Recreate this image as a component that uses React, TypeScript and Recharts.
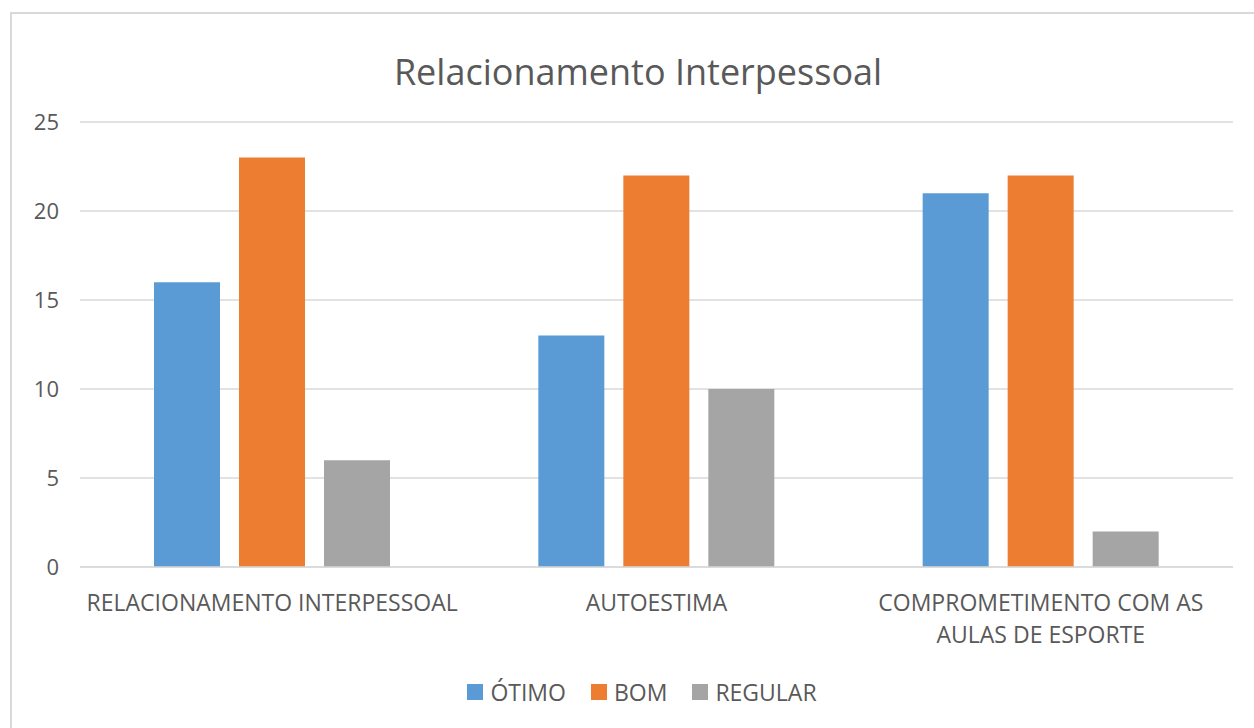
import { Bar, BarChart, CartesianGrid, XAxis, YAxis } from "recharts";

const categories = [
  "RELACIONAMENTO INTERPESSOAL",
  "AUTOESTIMA",
  "COMPROMETIMENTO COM AS\nAULAS DE ESPORTE"
];
const otimo = [16, 13, 21];
const bom = [23, 22, 22];
const regular = [6, 10, 2];
const yTicks = [0, 5, 10, 15, 20, 25];

const series = [
  { key: "otimo", name: "ÓTIMO", color: "#5B9BD5" },
  { key: "bom", name: "BOM", color: "#ED7D31" },
  { key: "regular", name: "REGULAR", color: "#A5A5A5" }
];

const data = categories.map((name, i) => ({
  name,
  otimo: otimo[i],
  bom: bom[i],
  regular: regular[i]
}));

const FONT = "'Open Sans', sans-serif";
const TEXT = "#595959";

function CategoryTick(props: any) {
  const { x, y, payload } = props;
  const lines = String(payload.value).split("\n");
  return (
    <text x={x} y={y} textAnchor="middle" fill={TEXT} fontFamily={FONT} fontSize={23}>
      {lines.map((line, i) => (
        <tspan key={i} x={x} dy={i === 0 ? 36 : 32}>
          {line}
        </tspan>
      ))}
    </text>
  );
}

export default function App() {
  return (
    <div style={{ position: "fixed", left: 0, top: 0, width: 1254, height: 728, background: "#fff", overflow: "hidden" }}>
      <div
        style={{
          position: "absolute",
          left: 10,
          top: 12,
          width: 1270,
          height: 740,
          border: "2px solid #D9D9D9"
        }}
      />
      <div
        style={{
          position: "absolute",
          left: 0,
          top: 47,
          width: 1276,
          textAlign: "center",
          fontFamily: FONT,
          fontSize: 36,
          color: TEXT
        }}
      >
        Relacionamento Interpessoal
      </div>
      <div style={{ position: "absolute", left: 0, top: 0 }}>
        <BarChart
          width={1254}
          height={728}
          data={data}
          margin={{ top: 122, right: 21, left: 20, bottom: 101 }}
          barSize={66}
          barGap={19}
        >
          <CartesianGrid vertical={false} stroke="#D9D9D9" strokeWidth={1.5} />
          <XAxis
            dataKey="name"
            axisLine={{ stroke: "#D9D9D9", strokeWidth: 1.5 }}
            tickLine={false}
            tick={<CategoryTick />}
            height={60}
            interval={0}
          />
          <YAxis
            domain={[0, 25]}
            ticks={yTicks}
            axisLine={false}
            tickLine={false}
            width={60}
            tickMargin={15}
            tick={{ fill: TEXT, fontFamily: FONT, fontSize: 22 }}
          />
          {series.map((s) => (
            <Bar key={s.key} dataKey={s.key} name={s.name} fill={s.color} isAnimationActive={false} />
          ))}
        </BarChart>
      </div>
      <div
        style={{
          position: "absolute",
          left: 0,
          top: 676,
          width: 1284,
          display: "flex",
          justifyContent: "center",
          gap: 25,
          fontFamily: FONT,
          fontSize: 23,
          color: TEXT
        }}
      >
        {series.map((s) => (
          <div key={s.key} style={{ display: "flex", alignItems: "center", gap: 7 }}>
            <span style={{ width: 16, height: 16, background: s.color, display: "inline-block" }} />
            <span>{s.name}</span>
          </div>
        ))}
      </div>
    </div>
  );
}
